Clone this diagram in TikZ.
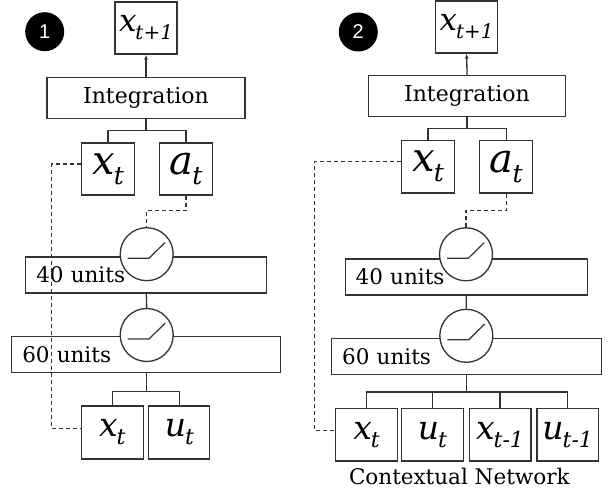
\documentclass[tikz,border=0pt]{standalone}
\usepackage{fontspec}
\setmainfont{DejaVu Serif}
\newfontfamily\badgefont{Liberation Sans}
\usepackage{tikz}
\usetikzlibrary{positioning}
\usetikzlibrary{arrows.meta}

\newcommand{\sym}[5]{{\fontsize{#1}{#1}\selectfont\itshape #3\kern-1pt\raisebox{-#5}{\fontsize{#2}{#2}\selectfont #4}}}
\newcommand{\topsym}[2]{\sym{40}{25}{#1}{#2}{10pt}}
\newcommand{\lowsym}[2]{\sym{33}{22}{#1}{#2}{8pt}}
\newcommand{\outsym}{\sym{31}{20}{x}{t+1}{8pt}}

\tikzset{
  box/.style={draw=black!80, line width=1.3pt, inner sep=0pt, fill=white},
  layerbox/.style={box, align=left, inner xsep=10.5pt, minimum height=36pt, font=\fontsize{21.5}{21.5}\selectfont},
  relu/.style={circle, draw=black!80, line width=1.3pt, fill=white, minimum size=53pt, inner sep=0pt},
  badge/.style={circle, fill=black, text=white, minimum size=39pt, inner sep=0pt, font=\badgefont\fontsize{20}{20}\selectfont},
  link/.style={draw=black!80, line width=1.3pt},
  skipline/.style={link, line width=1.1pt, dash pattern=on 4pt off 3pt},
}

\begin{document}
\begin{tikzpicture}[x=1pt, y=-1pt]
\useasboundingbox (0,0) rectangle (611,492);

% panel 1
\node [badge] (badge1) at (44.7,31.7) {1};
\node [box, minimum width=62pt, minimum height=52pt] (xn1) at (146,28) {\outsym};
\node [box, minimum width=198pt, minimum height=41pt, font=\fontsize{22}{22}\selectfont] (integ1) at (146,98) {Integration};
\node [box, minimum width=53pt, minimum height=52pt] (xa1) at (108,169) {\topsym{x}{t}};
\node [box, minimum width=53pt, minimum height=52pt] (aa1) at (186,169) {\topsym{a}{t}};
\node [layerbox, text width=220pt] (u40a) at (146.3,275) {40 units};
\node [layerbox, text width=248pt] (u60a) at (146.3,354.7) {60 units};
\node [relu] (r1a) at (146.7,254.2) {};
\node [relu] (r1b) at (146.7,335) {};
\node [box, minimum width=62pt, minimum height=53pt] (xb1) at (112.3,432.5) {\lowsym{x}{t}};
\node [box, minimum width=61pt, minimum height=53pt] (ub1) at (179.3,432.5) {\lowsym{u}{t}};
\coordinate (lane1) at (51.7,300);

\draw [link, -{Latex[length=5pt,width=4pt]}] (integ1.north) -- (xn1.south);
\draw [link] (integ1.south) -- ++(0,11.3) coordinate (j1);
\draw [link] (xa1.north) |- (j1) -| (aa1.north);
\draw [link] (u40a.south) -- (r1b.north);
\draw [link] (u60a.south) -- ++(0,18) coordinate (k1);
\draw [link] (xb1.north) |- (k1) -| (ub1.north);
\draw [skipline] (aa1.south) -- ++(0,15) -| (r1a.north);
\draw [skipline] ([yshift=5pt]xa1.west) -| (lane1) |- ([yshift=4pt]xb1.west);

% panel 2
\node [badge] (badge2) at (358.3,32) {2};
\node [box, minimum width=62pt, minimum height=52pt] (xn2) at (466.7,27) {\outsym};
\node [box, minimum width=197pt, minimum height=40.6pt, font=\fontsize{22}{22}\selectfont] (integ2) at (467,96) {Integration};
\node [box, minimum width=53pt, minimum height=52.7pt] (xa2) at (428,166.7) {\topsym{x}{t}};
\node [box, minimum width=53pt, minimum height=52.7pt] (aa2) at (506.3,166.7) {\topsym{a}{t}};
\node [layerbox, text width=221pt] (u40b) at (466.2,277) {40 units};
\node [layerbox, text width=249pt] (u60b) at (466.7,356.7) {60 units};
\node [relu] (r2a) at (466,254.3) {};
\node [relu] (r2b) at (466.3,335.8) {};
\node [box, minimum width=61.7pt, minimum height=52.7pt] (xb2) at (366.5,434.7) {\lowsym{x}{t}};
\node [box, minimum width=61.7pt, minimum height=52.7pt] (ub2) at (432.5,434.7) {\lowsym{u}{t}};
\node [box, minimum width=61.7pt, minimum height=52.7pt] (xo2) at (500,434.7) {\lowsym{x}{t-1}};
\node [box, minimum width=61.7pt, minimum height=52.7pt] (uo2) at (567.7,434.7) {\lowsym{u}{t-1}};
\node [font=\fontsize{21.5}{21.5}\selectfont] (ctx) at (459.3,476.7) {Contextual Network};
\coordinate (lane2) at (314.3,300);

\draw [link, -{Latex[length=5pt,width=4pt]}] (integ2.north) -- (xn2.south);
\draw [link] (integ2.south) -- ++(0,11.4) coordinate (j2);
\draw [link] (xa2.north) |- (j2) -| (aa2.north);
\draw [link] (u40b.south) -- (r2b.north);
\draw [link] (u60b.south) -- ++(0,16.7) coordinate (k2);
\draw [link] (xb2.north) |- (k2) -| (uo2.north);
\foreach \n in {ub2,xo2}
  \draw [link] (\n.north) -- (\n.north |- k2);
\draw [skipline] (aa2.south) -- ++(0,17) -| (r2a.north);
\draw [skipline] ([yshift=5pt]xa2.west) -| (lane2) |- ([yshift=4pt]xb2.west);

% ramp inside each activation
\foreach \c in {r1a,r1b,r2a,r2b}
  \draw [link, line width=1.2pt] ([shift={(-19,4)}]\c.center) -- ++(21.3,0) -- ++(16,-15.7);
\end{tikzpicture}
\end{document}
